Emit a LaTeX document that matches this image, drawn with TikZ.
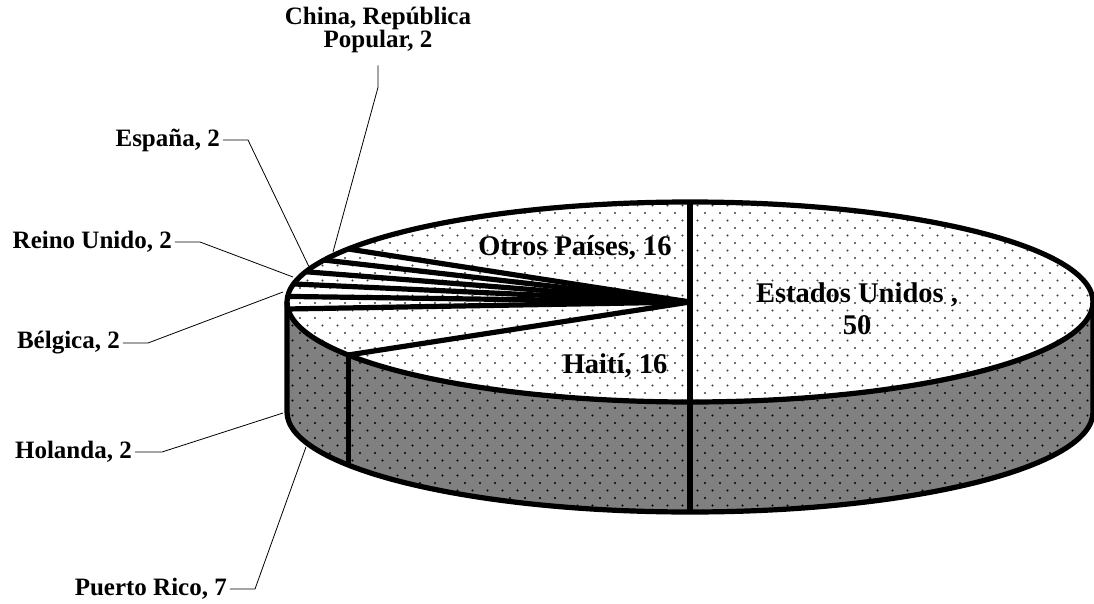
\documentclass[tikz,border=0pt]{standalone}
\usepackage{fontspec}
\setmainfont{Liberation Serif}
\usetikzlibrary{patterns}
% sparse staggered dots, as in the spreadsheet chart
\pgfdeclarepatternformonly{sparse dots}{\pgfqpoint{-1.5pt}{-1.5pt}}{\pgfqpoint{9pt}{9pt}}{\pgfqpoint{15pt}{15pt}}{%
  \pgfpathcircle{\pgfqpoint{0pt}{0pt}}{1.1pt}
  \pgfpathcircle{\pgfqpoint{7.5pt}{7.5pt}}{1.1pt}
  \pgfusepath{fill}}
\begin{document}
\begin{tikzpicture}[x=1pt,y=1pt, pie line/.style={line width=5.2pt, line join=round}, slice label/.style={font=\fontsize{28.5}{31}\selectfont\bfseries, inner sep=0pt, align=center}, side label/.style={font=\fontsize{25}{22}\selectfont\bfseries, inner sep=0pt, anchor=east}, leader/.style={line width=0.8pt}]
\useasboundingbox (-690,-301) rectangle (404,302);
\coordinate (O) at (0,0);
% side wall
\fill[black!50] (-403,0) -- (-403,-110) arc[start angle=180, end angle=360, x radius=403, y radius=100] -- (403,0) arc[start angle=0, end angle=-180, x radius=403, y radius=100] -- cycle;
\fill[pattern=sparse dots, pattern color=black] (-403,0) -- (-403,-110) arc[start angle=180, end angle=360, x radius=403, y radius=100] -- (403,0) arc[start angle=0, end angle=-180, x radius=403, y radius=100] -- cycle;
% top face
\fill[white] (O) ellipse[x radius=403, y radius=100];
\fill[pattern=sparse dots, pattern color=black!75] (O) ellipse[x radius=403, y radius=100];
% slices
\foreach \a in {148,155.2,162.4,169.6,176.8,184,212}
  \draw[pie line] (O) -- (\a:403 and 100);
\draw[pie line] (0,100) -- (0,-210);
\draw[pie line] (212:403 and 100) -- ++(0,-110);
\draw[pie line] (O) ellipse[x radius=403, y radius=100];
\draw[pie line] (-403,0) -- (-403,-110) arc[start angle=180, end angle=360, x radius=403, y radius=100] -- (403,0);
% labels on the pie
\node[slice label] (us) at (167,-7) {Estados Unidos ,\\[1pt]50};
\node[slice label] (otros) at (-115,54) {Otros Países, 16};
\node[slice label] (haiti) at (-75,-64) {Haití, 16};
% labels outside
\node[side label, anchor=center, align=center] (china) at (-312,272) {China, República\\Popular, 2};
\node[side label] (espana) at (-470,162) {España, 2};
\node[side label] (reino) at (-518,60) {Reino Unido, 2};
\node[side label] (belgica) at (-570,-41) {Bélgica, 2};
\node[side label] (holanda) at (-558,-150) {Holanda, 2};
\node[side label] (puerto) at (-463,-287) {Puerto Rico, 7};
\coordinate (china tip) at (-357,50);
\coordinate (espana tip) at (-378,29);
\coordinate (reino tip) at (-397,25);
\coordinate (belgica tip) at (-407,10);
\coordinate (holanda tip) at (-407,-111);
\coordinate (puerto tip) at (-384,-145);
\draw[leader] ([yshift=-12pt]china.south) -- ++(0,-22) -- (china tip);
\draw[leader] ([xshift=3pt]espana.east) -- ++(25,0) -- (espana tip);
\draw[leader] ([xshift=3pt]reino.east) -- ++(25,0) -- (reino tip);
\draw[leader] ([xshift=3pt]belgica.east) -- ++(25,0) -- (belgica tip);
\draw[leader] ([xshift=3pt]holanda.east) -- ++(27,0) -- (holanda tip);
\draw[leader] ([xshift=3pt]puerto.east) -- ++(25,0) -- (puerto tip);
\end{tikzpicture}
\end{document}
